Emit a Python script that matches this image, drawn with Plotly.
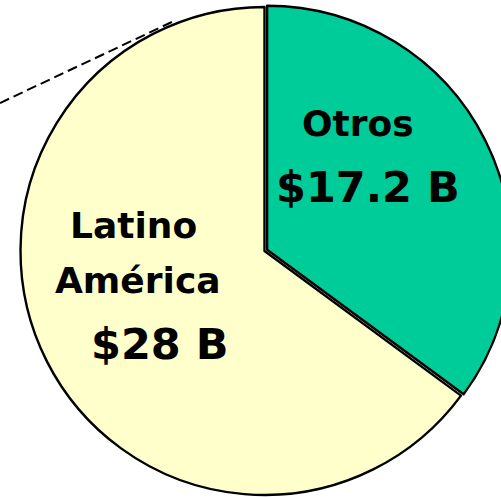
import plotly.graph_objects as go

# ---- data ----
regions = ["Otros", "Latino América"]
amount_labels = ["$17.2 B", "$28 B"]
slice_share = [35.1, 64.9]          # share of the circle as drawn (%)
slice_colors = ["#00CC99", "#FFFFCC"]
pull_out = [0.012, 0]

FIG_W, FIG_H = 530, 510

def px(x):
    return x / FIG_W

def py(y):
    return 1 - y / FIG_H

R = 244.0
HALF = R * (1 + max(pull_out))
CX, CY = 264.5, 251.0

fig = go.Figure(
    go.Pie(
        labels=regions,
        values=slice_share,
        sort=False,
        direction="clockwise",
        rotation=0,
        pull=pull_out,
        marker=dict(colors=slice_colors, line=dict(color="black", width=2.4)),
        textinfo="none",
        hoverinfo="label",
        showlegend=False,
        domain=dict(x=[px(CX - HALF), px(CX + HALF)],
                    y=[1 - (CY + HALF) / FIG_H, 1 - (CY - HALF) / FIG_H]),
    )
)

font_fam = "DejaVu Sans, Verdana, sans-serif"
texts = [
    ("Otros", 358, 123, 36),
    (amount_labels[0], 367.5, 186.5, 43),
    ("Latino", 133.5, 225.5, 36),
    ("América", 138, 280.5, 36),
    (amount_labels[1], 160, 344, 43),
]
annotations = []
for t, x, y, s in texts:
    annotations.append(dict(
        text="<b>" + t + "</b>", x=px(x), y=py(y), xref="paper", yref="paper",
        xanchor="center", yanchor="middle", showarrow=False,
        font=dict(family=font_fam, size=s, color="black"),
    ))

fig.update_layout(
    width=FIG_W, height=FIG_H, autosize=False,
    margin=dict(l=0, r=0, t=0, b=0, pad=0),
    paper_bgcolor="white", plot_bgcolor="white",
    annotations=annotations,
    shapes=[dict(type="line", xref="paper", yref="paper",
                 x0=px(0), y0=py(103), x1=px(174), y1=py(21),
                 line=dict(color="black", width=2, dash="10px,5px"))],
)

fig.write_html(
    "out.html",
    config={"displayModeBar": False},
    post_script="document.body.style.margin='0';document.body.style.overflow='hidden';document.documentElement.style.overflow='hidden';",
)
